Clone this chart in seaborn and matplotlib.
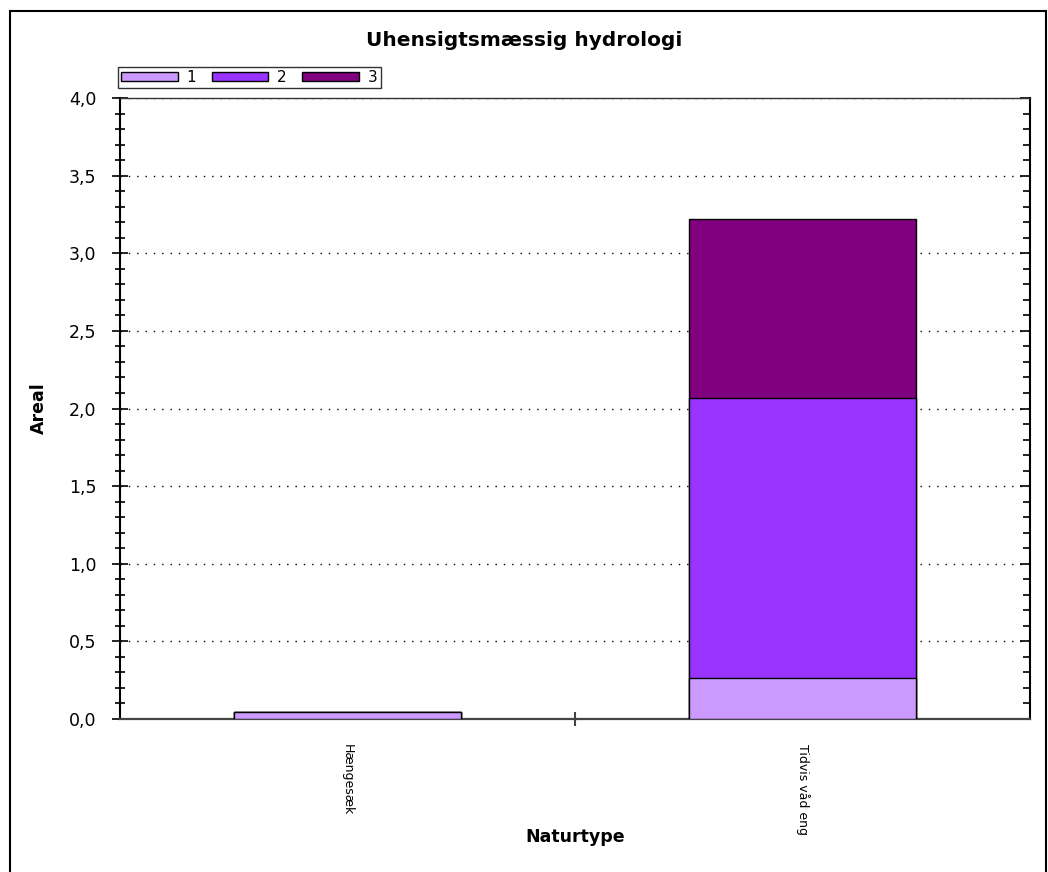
import numpy as np
import pandas as pd
import matplotlib
matplotlib.use("Agg")
import matplotlib.pyplot as plt
import matplotlib.patches as mpatches
from matplotlib.lines import TICKLEFT
from matplotlib.ticker import MultipleLocator, FuncFormatter
import seaborn as sns

# data
naturtyper = ["Hængesæk", "Tidvis våd eng"]
serier = ["1", "2", "3"]
vaerdi_1 = [0.045, 0.265]
vaerdi_2 = [0.0, 1.805]
vaerdi_3 = [0.0, 1.15]
farver = ["#CC99FF", "#9933FF", "#800080"]

df = pd.DataFrame({"Naturtype": naturtyper, "1": vaerdi_1, "2": vaerdi_2, "3": vaerdi_3})
cum = df[serier].cumsum(axis=1)

sns.set_style("white")
plt.rcParams["font.family"] = ["DejaVu Sans"]
plt.rcParams.update({"text.color": "black", "axes.labelcolor": "black",
                     "xtick.color": "black", "ytick.color": "black"})

fig = plt.figure(figsize=(10.48, 8.72), dpi=100)
ax = fig.add_axes([120 / 1048, 1 - 719 / 872, 910 / 1048, 621 / 872])

# stacked bars: draw cumulative totals, tallest first
for s, c in reversed(list(zip(serier, farver))):
    sns.barplot(x=df["Naturtype"], y=cum[s], color=c, width=0.5,
                edgecolor="black", linewidth=1, saturation=1, ax=ax, zorder=3)

ax.set_xlim(-0.5, 1.5)
ax.set_ylim(0, 4.0)
ax.yaxis.set_major_locator(MultipleLocator(0.5))
ax.yaxis.set_minor_locator(MultipleLocator(0.1))
ax.yaxis.set_major_formatter(FuncFormatter(lambda v, p: f"{v:.1f}".replace(".", ",")))
ax.yaxis.grid(True, which="major", linestyle=(0, (1, 5)), color="black", linewidth=1, zorder=0)

ax.tick_params(axis="y", which="major", direction="inout", length=12, width=1.2,
               labelsize=12.5, left=True, right=True, pad=11)
ax.tick_params(axis="y", which="minor", direction="inout", length=7, width=1.2,
               left=True, right=True)

ax.set_xticks([0, 1])
ax.set_xticklabels(naturtyper, rotation=-90, fontsize=9, va="top", ha="center")
ax.tick_params(axis="x", which="major", length=0, pad=18)
ax.set_xticks([0.5], minor=True)
ax.tick_params(axis="x", which="minor", direction="inout", length=10, width=1.5,
               color="#444444", bottom=True)

# right spine ticks point inwards only
for t in ax.yaxis.get_major_ticks():
    t.tick2line.set_marker(TICKLEFT)
    t.tick2line.set_markersize(7)
for t in ax.yaxis.get_minor_ticks():
    t.tick2line.set_marker(TICKLEFT)
    t.tick2line.set_markersize(5)

for side in ["left", "right"]:
    ax.spines[side].set_color("black")
    ax.spines[side].set_linewidth(1.5)
ax.spines["bottom"].set_color("#444444")
ax.spines["bottom"].set_linewidth(1.6)
ax.spines["top"].set_color("#333333")
ax.spines["top"].set_linewidth(1)

ax.set_xlabel("Naturtype", fontsize=12.5, fontweight="bold")
ax.set_ylabel("Areal", fontsize=12.5, fontweight="bold")
ax.xaxis.set_label_coords(0.5, -0.175)
ax.yaxis.set_label_coords(-0.079, 0.5)

fig.text(0.5, 1 - 41 / 872, "Uhensigtsmæssig hydrologi", ha="center", va="center",
         fontsize=14.5, fontweight="bold")

handles = [mpatches.Patch(facecolor=c, edgecolor="black", linewidth=1) for c in farver]
leg = fig.legend(handles, serier, loc="upper left", ncol=3,
                 bbox_to_anchor=(118 / 1048, 1 - 67 / 872), frameon=True,
                 fontsize=11, handlelength=3.7, handleheight=0.5, handletextpad=0.6,
                 columnspacing=1.0, borderpad=0.2, borderaxespad=0, fancybox=False)
leg.get_frame().set_edgecolor("black")
leg.get_frame().set_linewidth(1)

# outer frame
fig.patches.append(mpatches.Rectangle((10 / 1048, -0.05), 1036 / 1048, 1.05 - 11 / 872,
                                      transform=fig.transFigure, fill=False,
                                      edgecolor="black", linewidth=1.5))

fig.savefig("out.png", dpi=100)
